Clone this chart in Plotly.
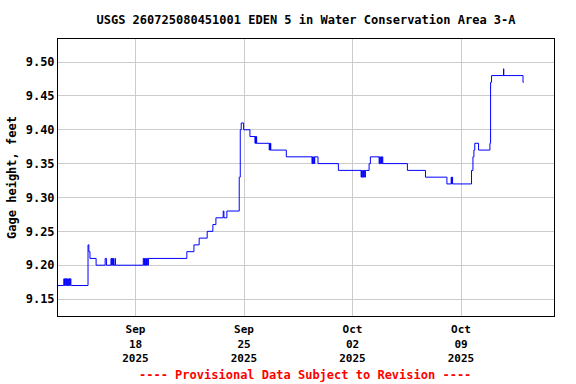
import pandas as pd
import plotly.graph_objects as go

TITLE = "USGS 260725080451001 EDEN 5 in Water Conservation Area 3-A"
Y_TITLE = "Gage height, feet"
FOOTER = "---- Provisional Data Subject to Revision ----"

# Start of record (hours are measured from here)
BASE = pd.Timestamp("2025-09-13 00:00")

# Hours since BASE where the gage height changes
hours = [
    0, 9, 10, 11, 12, 13, 14, 15, 16, 17, 18, 19, 20, 21,
    46.5, 47.8, 49.5, 59,
    73, 75,
    82, 83, 84, 85, 85.5, 86,
    88.2, 89,
    132, 133, 134, 135, 136, 137, 138, 139, 140,
    199.5, 210.5, 218.6, 231, 239.8, 244.5, 255.8, 256.9, 261.5,
    280.6, 282.2, 283.7, 287.4, 297.2,
    305, 305.7, 306.4, 307.1, 307.6,
    327, 327.7, 328.4, 329, 329.5,
    353.5,
    393.3, 394, 395, 396, 397, 397.5,
    402.6, 434.1,
    469.3, 470, 471, 472, 473, 474, 475, 476,
    481.7, 483.7,
    497.2, 498, 499, 500, 501, 502, 502.9,
    541, 569, 602.2,
    608.8, 609.5, 610.2, 611,
    640.3, 642.5, 644, 645.3, 651.2, 668.8, 669.8, 671.3,
    689.8, 690.3, 720, 721,
]

# Gage height (feet) from each change onward
heights = [
    9.17, 9.18, 9.17, 9.18, 9.17, 9.18, 9.17, 9.18, 9.17, 9.18, 9.17, 9.18, 9.17, 9.17,
    9.23, 9.22, 9.21, 9.20,
    9.21, 9.20,
    9.21, 9.20, 9.21, 9.20, 9.21, 9.20,
    9.21, 9.20,
    9.21, 9.20, 9.21, 9.20, 9.21, 9.20, 9.21, 9.20, 9.21,
    9.22, 9.23, 9.24, 9.25, 9.26, 9.27, 9.28, 9.27, 9.28,
    9.33, 9.40, 9.41, 9.40, 9.39,
    9.38, 9.39, 9.38, 9.39, 9.38,
    9.37, 9.38, 9.37, 9.38, 9.37,
    9.36,
    9.35, 9.36, 9.35, 9.36, 9.35, 9.36,
    9.35, 9.34,
    9.33, 9.34, 9.33, 9.34, 9.33, 9.34, 9.33, 9.34,
    9.35, 9.36,
    9.35, 9.36, 9.35, 9.36, 9.35, 9.36, 9.35,
    9.34, 9.33, 9.32,
    9.33, 9.32, 9.33, 9.32,
    9.34, 9.36, 9.37, 9.38, 9.37, 9.38, 9.47, 9.48,
    9.49, 9.48, 9.47, 9.47,
]

x_tickvals = ["2025-09-18", "2025-09-25", "2025-10-02", "2025-10-09"]
x_ticktext = ["Sep<br>18<br>2025", "Sep<br>25<br>2025", "Oct<br>02<br>2025", "Oct<br>09<br>2025"]
y_tickvals = [9.15, 9.20, 9.25, 9.30, 9.35, 9.40, 9.45, 9.50]
y_ticktext = ["9.15", "9.20", "9.25", "9.30", "9.35", "9.40", "9.45", "9.50"]

times = [BASE + pd.Timedelta(hours=h) for h in hours]

FONT = "DejaVu Sans Mono"

fig = go.Figure()
fig.add_trace(go.Scatter(
    x=times, y=heights, mode="lines",
    line=dict(color="#0000ff", width=1, shape="hv"),
    hoverinfo="skip", showlegend=False,
))

fig.update_layout(
    width=576, height=384,
    margin=dict(l=58, r=22, t=39, b=68, autoexpand=False),
    paper_bgcolor="white", plot_bgcolor="white",
    font=dict(family=FONT, size=12, color="black"),
    title=dict(text="<b>" + TITLE + "</b>", xref="paper", x=0.5, xanchor="center",
               y=1 - 20 / 384, yanchor="middle",
               font=dict(family=FONT, size=12, color="black")),
    annotations=[dict(
        text="<b>" + FOOTER + "</b>", xref="paper", yref="paper",
        x=(305 - 58) / 496, y=-(375 - 316) / 277, xanchor="center", yanchor="middle",
        showarrow=False, font=dict(family=FONT, size=12, color="#ff0000"),
    )],
)

fig.update_xaxes(
    range=[BASE, BASE + pd.Timedelta(days=32)],
    tickvals=x_tickvals, ticktext=["<b>" + t.replace("<br>", "</b><br><b>") + "</b>" for t in x_ticktext],
    tickfont=dict(family=FONT, size=11, color="black"),
    showgrid=True, gridcolor="#cccccc", gridwidth=1,
    showline=True, linecolor="black", linewidth=1, mirror=True,
    ticks="", zeroline=False, automargin=False, ticklabelstandoff=3,
)
fig.update_yaxes(
    range=[9.125, 9.534],
    tickvals=y_tickvals, ticktext=["<b>" + t + "</b>" for t in y_ticktext],
    tickfont=dict(family=FONT, size=12, color="black"),
    title=dict(text="<b>" + Y_TITLE + "</b>", font=dict(family=FONT, size=12, color="black"), standoff=6),
    showgrid=True, gridcolor="#cccccc", gridwidth=1,
    showline=True, linecolor="black", linewidth=1, mirror=True,
    ticks="", zeroline=False, automargin=False,
)

fig.write_html("out.html", config={"displayModeBar": False},
               post_script="document.body.style.margin='0';document.body.style.padding='0';")
